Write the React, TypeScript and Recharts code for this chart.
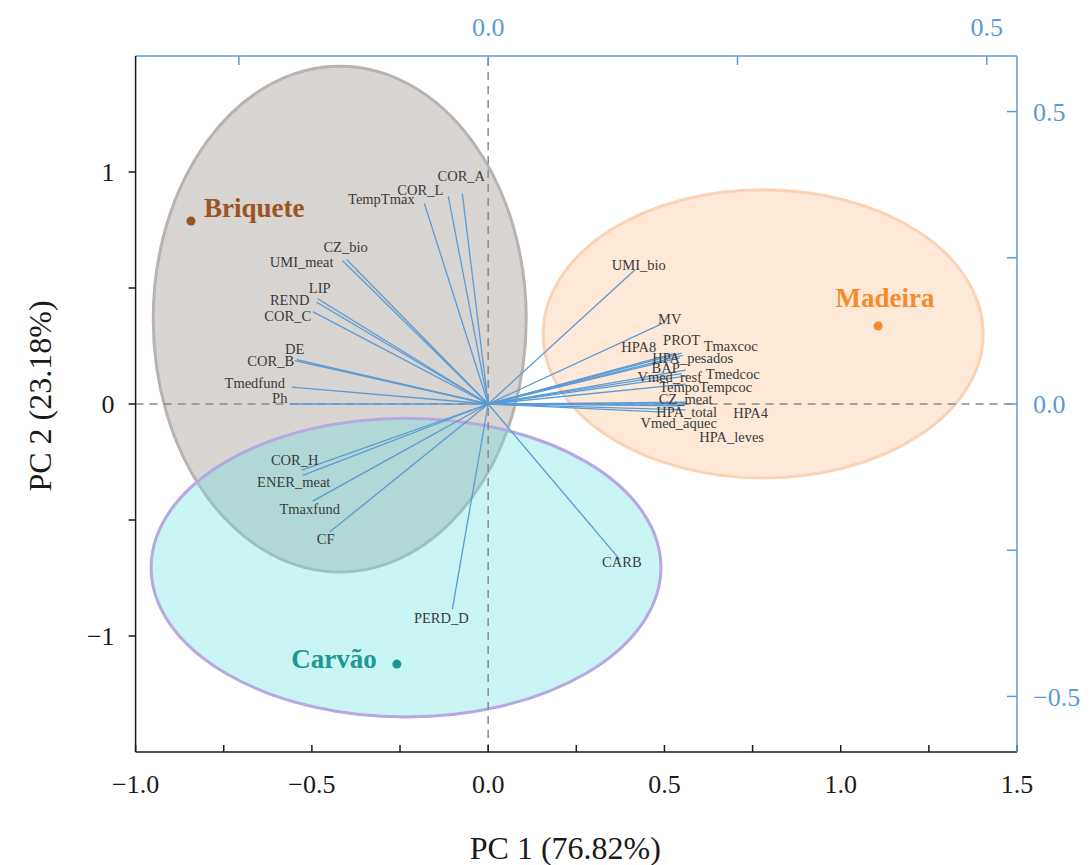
import { ScatterChart, Scatter, XAxis, YAxis, ReferenceLine, ReferenceArea, Label } from "recharts";

const SERIF = '"Liberation Serif", "Times New Roman", serif';
const AXIS_BLUE = "#5b9bd5";
const ARROW_BLUE = "#5a9bd4";

// group centroids (scores)
const groups = ["Briquete", "Madeira", "Carvão"];
const groupPC1 = [-0.843, 1.106, -0.259];
const groupPC2 = [0.789, 0.336, -1.121];
const groupColors = ["#9a5522", "#f58b2a", "#1c9990"];

// concentration ellipses in PC units: centre + semi-axes
const ellipseCx = [-0.421, 0.78, -0.233];
const ellipseCy = [0.366, 0.302, -0.705];
const ellipseRx = [0.529, 0.624, 0.723];
const ellipseRy = [1.09, 0.621, 0.644];
const ellipseFill = ["#9e948c", "#fbb27e", "#5fe0e0"];
const ellipseFillOpacity = [0.4, 0.3, 0.33];
const ellipseStroke = ["#b8b3b0", "#fbd2b4", "#b6a8e2"];

// variable loadings (top / right axes)
const variables = [
  "COR_A", "COR_L", "TempTmax", "CZ_bio", "UMI_meat", "LIP", "REND", "COR_C",
  "DE", "COR_B", "Tmedfund", "Ph", "COR_H", "ENER_meat", "Tmaxfund", "CF",
  "PERD_D", "CARB", "UMI_bio", "MV", "PROT", "HPA8", "Tmaxcoc", "HPA_pesados",
  "BAP", "Vmed_resf", "Tmedcoc", "TempoTempcoc", "CZ_meat", "HPA_total", "HPA4",
  "Vmed_aquec", "HPA_leves",
];
const loadPC1 = [
  -0.026, -0.040, -0.064, -0.142, -0.146, -0.171, -0.172, -0.176,
  -0.192, -0.194, -0.197, -0.199, -0.187, -0.186, -0.176, -0.159,
  -0.036, 0.132, 0.147, 0.175, 0.194, 0.186, 0.195, 0.192,
  0.198, 0.194, 0.200, 0.198, 0.198, 0.193, 0.200,
  0.176, 0.198,
];
const loadPC2 = [
  0.360, 0.355, 0.343, 0.247, 0.245, 0.180, 0.174, 0.158,
  0.076, 0.074, 0.029, 0.000, -0.113, -0.122, -0.166, -0.219,
  -0.351, -0.266, 0.229, 0.138, 0.087, 0.086, 0.083, 0.079,
  0.058, 0.052, 0.048, 0.034, 0.003, -0.003, 0.000,
  -0.014, -0.010,
];

// label offsets from the arrow tips, px
const labelNudge: Record<string, [number, number]> = {
  COR_A: [-1, -17], COR_L: [-28, -6], TempTmax: [-43, -4], CZ_bio: [-1, -13],
  UMI_meat: [-41, 1], LIP: [2, -11], REND: [-27, -2], COR_C: [-25, 4],
  DE: [-2, -11], COR_B: [-24, 0], Tmedfund: [-37, -4], Ph: [-10, -6],
  COR_H: [-7, -10], ENER_meat: [-9, 7], Tmaxfund: [-3, 8], CF: [-4, 7],
  PERD_D: [-11, 9], CARB: [2, 2], UMI_bio: [4, -5], MV: [7, -4],
  PROT: [0, -13], HPA8: [-35, -7], Tmaxcoc: [48, -9], HPA_pesados: [13, 0],
  BAP: [-20, -2], Vmed_resf: [-12, 3], Tmedcoc: [45, -2], TempoTempcoc: [20, 3],
  CZ_meat: [0, -3], HPA_total: [6, 6], HPA4: [63, 9], Vmed_aquec: [15, 11],
  HPA_leves: [46, 27],
};

const pc1Ticks = [-1, -0.75, -0.5, -0.25, 0, 0.25, 0.5, 0.75, 1, 1.25, 1.5];
const pc2Ticks = [-1, -0.5, 0, 0.5, 1];
const load1Ticks = [-0.25, 0, 0.25, 0.5];
const load2Ticks = [-0.5, -0.25, 0, 0.25, 0.5];

const groupData = groups.map((name, i) => ({ name, x: groupPC1[i], y: groupPC2[i], color: groupColors[i] }));
const loadingData = variables.map((name, i) => ({ name, x: loadPC1[i], y: loadPC2[i] }));

const withMinus = (s: string) => s.replace("-", "\u2212");
const fmtHalf = (v: number) => (Math.abs(v * 2 - Math.round(v * 2)) < 1e-6 ? withMinus(v.toFixed(1)) : "");
const fmtInt = (v: number) => (Number.isInteger(v) ? withMinus(String(v)) : "");

const GroupMark = (props: any) => {
  const { cx, cy, payload } = props;
  const place: Record<string, { dx: number; dy: number; anchor: "start" | "middle" | "end" }> = {
    Briquete: { dx: 13, dy: -13, anchor: "start" },
    Madeira: { dx: 7, dy: -28, anchor: "middle" },
    Carvão: { dx: -20, dy: -5, anchor: "end" },
  };
  const p = place[payload.name];
  return (
    <g>
      <circle cx={cx} cy={cy} r={4.5} fill={payload.color} />
      <text
        x={cx + p.dx}
        y={cy + p.dy}
        textAnchor={p.anchor}
        dominantBaseline="central"
        fontFamily={SERIF}
        fontWeight="bold"
        fontSize={27}
        fill={payload.color}
      >
        {payload.name}
      </text>
    </g>
  );
};

const VarLabel = (props: any) => {
  const { cx, cy, payload } = props;
  const [dx, dy] = labelNudge[payload.name] ?? [0, 0];
  return (
    <text
      x={cx + dx}
      y={cy + dy}
      textAnchor="middle"
      dominantBaseline="central"
      fontFamily={SERIF}
      fontSize={14.5}
      fill="#3b3b3b"
    >
      {payload.name}
    </text>
  );
};

const ellipseShape = (i: number) => (props: any) => {
  const { x, y, width, height } = props;
  const w = Math.abs(width);
  const h = Math.abs(height);
  return (
    <ellipse
      cx={x + w / 2}
      cy={y + h / 2}
      rx={w / 2}
      ry={h / 2}
      fill={ellipseFill[i]}
      fillOpacity={ellipseFillOpacity[i]}
      stroke={ellipseStroke[i]}
      strokeWidth={3}
    />
  );
};

export default function App() {
  return (
    <div style={{ position: "absolute", left: 0, top: 0, background: "#fff" }}>
      <ScatterChart width={1090} height={865} margin={{ top: 0, right: 0, bottom: 0, left: 0 }}>
        <XAxis
          xAxisId="pc"
          dataKey="x"
          type="number"
          orientation="bottom"
          domain={[-1, 1.5]}
          ticks={pc1Ticks}
          interval={0}
          allowDataOverflow
          height={113}
          stroke="#1a1a1a"
          strokeWidth={1.5}
          tickSize={-7}
          tickMargin={30}
          tickFormatter={fmtHalf}
          tick={{ fill: "#1a1a1a", fontSize: 26, fontFamily: SERIF }}
        >
          <Label
            value="PC 1 (76.82%)"
            position="insideBottom"
            offset={6}
            dx={-11}
            style={{ fill: "#1a1a1a", fontSize: 32, fontFamily: SERIF }}
          />
        </XAxis>
        <XAxis
          xAxisId="load"
          dataKey="x"
          type="number"
          orientation="top"
          domain={[-0.3536, 0.5303]}
          ticks={load1Ticks}
          interval={0}
          allowDataOverflow
          height={56}
          stroke={AXIS_BLUE}
          strokeWidth={1.5}
          tickSize={-9}
          tickMargin={29}
          tickFormatter={fmtHalf}
          tick={{ fill: AXIS_BLUE, fontSize: 26, fontFamily: SERIF }}
        />
        <YAxis
          yAxisId="pc"
          dataKey="y"
          type="number"
          orientation="left"
          domain={[-1.5, 1.5]}
          ticks={pc2Ticks}
          interval={0}
          allowDataOverflow
          width={135.6}
          stroke="#1a1a1a"
          strokeWidth={1.5}
          tickSize={7}
          tickMargin={14}
          tickFormatter={fmtInt}
          tick={{ fill: "#1a1a1a", fontSize: 26, fontFamily: SERIF }}
        >
          <Label
            value="PC 2 (23.18%)"
            position="center"
            angle={-90}
            dx={-28}
            dy={-8}
            style={{ fill: "#1a1a1a", fontSize: 32, fontFamily: SERIF, textAnchor: "middle" }}
          />
        </YAxis>
        <YAxis
          yAxisId="load"
          dataKey="y"
          type="number"
          orientation="right"
          domain={[-0.595, 0.595]}
          ticks={load2Ticks}
          interval={0}
          allowDataOverflow
          width={73}
          stroke={AXIS_BLUE}
          strokeWidth={1.5}
          tickSize={-10}
          tickMargin={26}
          tickFormatter={fmtHalf}
          tick={{ fill: AXIS_BLUE, fontSize: 26, fontFamily: SERIF }}
        />

        {groups.map((g, i) => (
          <ReferenceArea
            key={g}
            xAxisId="pc"
            yAxisId="pc"
            x1={ellipseCx[i] - ellipseRx[i]}
            x2={ellipseCx[i] + ellipseRx[i]}
            y1={ellipseCy[i] - ellipseRy[i]}
            y2={ellipseCy[i] + ellipseRy[i]}
            ifOverflow="visible"
            shape={ellipseShape(i)}
          />
        ))}

        <ReferenceLine xAxisId="pc" yAxisId="pc" x={0} stroke="#8a8a8a" strokeWidth={1.5} strokeDasharray="8 6" />
        <ReferenceLine xAxisId="pc" yAxisId="pc" y={0} stroke="#8a8a8a" strokeWidth={1.5} strokeDasharray="8 6" />

        {loadingData.map((d) => (
          <ReferenceLine
            key={d.name}
            xAxisId="load"
            yAxisId="load"
            segment={[{ x: 0, y: 0 }, { x: d.x, y: d.y }]}
            stroke={ARROW_BLUE}
            strokeWidth={1.3}
            ifOverflow="visible"
          />
        ))}

        <Scatter xAxisId="load" yAxisId="load" data={loadingData} shape={VarLabel} isAnimationActive={false} />
        <Scatter xAxisId="pc" yAxisId="pc" data={groupData} shape={GroupMark} isAnimationActive={false} />
      </ScatterChart>
    </div>
  );
}
